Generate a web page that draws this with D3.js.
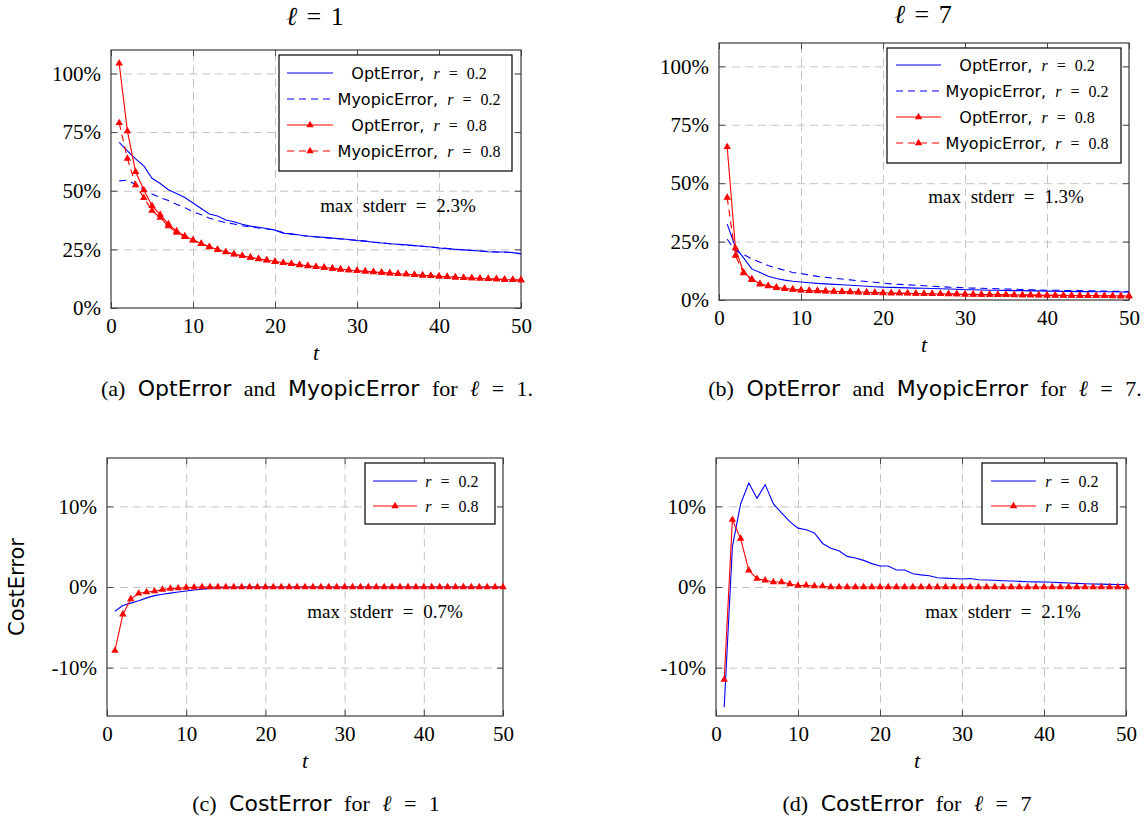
<!DOCTYPE html>
<html>
<head>
<meta charset="utf-8">
<script src="https://cdn.jsdelivr.net/npm/d3@7"></script>
<style>
  body { margin: 0; background: #fff; }
  svg { display: block; }
  text { white-space: pre; }
</style>
</head>
<body>
<svg id="fig" width="1145" height="827"></svg>
<script>
// ---------- data ----------
const steps = d3.range(1, 51); // t = 1 .. 50
const xTicks = [0, 10, 20, 30, 40, 50];
const errTicks = [0, 25, 50, 75, 100];
const costTicks = [-10, 0, 10];

// relative errors (%) for l = 1
const optL1R02 = [70.6, 67.0, 63.6, 60.6, 55.3, 53.1, 50.4, 48.8, 47.1, 44.8,
  42.4, 40.1, 39.2, 37.5, 36.8, 35.7, 34.9, 34.4, 33.9, 33.2,
  31.9, 31.6, 31.1, 30.7, 30.4, 30.1, 29.8, 29.5, 29.2, 28.8,
  28.5, 28.0, 27.7, 27.4, 27.2, 26.9, 26.6, 26.3, 26.0, 25.6,
  25.3, 25.0, 24.8, 24.5, 24.3, 24.0, 23.9, 23.9, 23.6, 23.0];
const myoL1R02 = [54.2, 54.5, 52.7, 50.5, 48.6, 47.1, 45.8, 44.2, 42.8, 41.0,
  39.8, 38.3, 37.3, 36.4, 35.8, 35.1, 34.5, 34.1, 33.7, 33.2,
  32.2, 31.5, 31.0, 30.6, 30.3, 30.0, 29.7, 29.4, 29.1, 28.9,
  28.5, 28.1, 27.8, 27.4, 27.1, 26.8, 26.6, 26.3, 26.0, 25.7,
  25.4, 25.1, 24.8, 24.6, 24.3, 24.1, 23.9, 23.8, 23.6, 23.2];
const optL1R08 = [104.3, 75.4, 58.1, 50.3, 43.6, 39.8, 35.8, 32.8, 30.7, 29.0,
  27.5, 26.1, 24.9, 23.9, 23.0, 22.3, 21.6, 21.0, 20.4, 19.8,
  19.3, 18.8, 18.4, 18.0, 17.6, 17.2, 16.9, 16.5, 16.2, 15.9,
  15.6, 15.4, 15.1, 14.9, 14.6, 14.4, 14.2, 13.9, 13.7, 13.5,
  13.3, 13.1, 12.9, 12.8, 12.6, 12.4, 12.3, 12.1, 12.0, 11.9];
const myoL1R08 = [78.9, 63.7, 52.4, 47.0, 41.5, 38.5, 34.9, 32.2, 30.3, 28.8,
  27.3, 26.0, 24.8, 23.8, 22.9, 22.2, 21.5, 20.9, 20.3, 19.7,
  19.2, 18.8, 18.3, 17.9, 17.5, 17.2, 16.8, 16.5, 16.2, 15.9,
  15.6, 15.3, 15.1, 14.8, 14.6, 14.4, 14.1, 13.9, 13.7, 13.5,
  13.3, 13.1, 12.9, 12.7, 12.6, 12.4, 12.3, 12.1, 12.0, 11.9];

// relative errors (%) for l = 7
const optL7R02 = [32.5, 22.6, 18.0, 13.3, 11.8, 10.2, 9.2, 8.5, 8.0, 7.7,
  7.4, 7.1, 6.9, 6.7, 6.5, 6.3, 6.1, 5.9, 5.7, 5.5,
  5.4, 5.3, 5.2, 5.1, 5.0, 4.9, 4.8, 4.7, 4.6, 4.4,
  4.4, 4.3, 4.2, 4.2, 4.1, 4.0, 4.0, 3.9, 3.9, 3.8,
  3.8, 3.7, 3.7, 3.6, 3.6, 3.5, 3.5, 3.5, 3.4, 3.4];
const myoL7R02 = [26.0, 21.2, 19.5, 17.6, 16.2, 14.8, 13.7, 12.7, 11.8, 11.3,
  10.7, 10.1, 9.7, 9.3, 9.0, 8.6, 8.2, 7.9, 7.6, 7.2,
  6.9, 6.7, 6.5, 6.3, 6.1, 5.9, 5.7, 5.5, 5.4, 5.2,
  5.1, 5.0, 4.9, 4.8, 4.7, 4.6, 4.5, 4.4, 4.3, 4.2,
  4.2, 4.1, 4.0, 4.0, 3.9, 3.9, 3.8, 3.7, 3.7, 3.6];
const optL7R08 = [65.5, 22.2, 11.8, 9.0, 6.9, 6.1, 5.4, 4.9, 4.6, 4.2,
  4.0, 3.9, 3.8, 3.7, 3.6, 3.5, 3.4, 3.3, 3.2, 3.1,
  3.0, 2.9, 2.9, 2.8, 2.7, 2.7, 2.6, 2.6, 2.5, 2.4,
  2.4, 2.3, 2.3, 2.3, 2.2, 2.2, 2.1, 2.1, 2.1, 2.0,
  2.0, 2.0, 1.9, 1.9, 1.9, 1.8, 1.8, 1.8, 1.7, 1.7];
const myoL7R08 = [43.8, 19.0, 11.5, 8.6, 6.7, 5.9, 5.2, 4.8, 4.5, 4.1,
  3.9, 3.8, 3.7, 3.6, 3.5, 3.4, 3.3, 3.2, 3.1, 3.0,
  2.9, 2.9, 2.8, 2.7, 2.7, 2.6, 2.6, 2.5, 2.5, 2.4,
  2.3, 2.3, 2.3, 2.2, 2.2, 2.1, 2.1, 2.1, 2.0, 2.0,
  2.0, 1.9, 1.9, 1.9, 1.8, 1.8, 1.8, 1.7, 1.7, 1.7];

// cost errors (%)
const costL1R02 = [-3.0, -2.3, -2.0, -1.7, -1.35, -1.07, -0.9, -0.76, -0.63, -0.5,
  -0.38, -0.26, -0.17, -0.09, -0.05, -0.03, -0.02, -0.01, 0, 0,
  0, 0, 0, 0, 0, 0, 0, 0, 0, 0,
  0, 0, 0, 0, 0, 0, 0, 0, 0, 0,
  0, 0, 0, 0, 0, 0, 0, 0, 0, 0];
const costL1R08 = [-7.9, -3.4, -1.5, -0.8, -0.62, -0.52, -0.33, -0.2, -0.15, -0.08,
  -0.04, -0.02, -0.01, 0, 0, 0, 0, 0, 0, 0,
  0, 0, 0, 0, 0, 0, 0, 0, 0, 0,
  0, 0, 0, 0, 0, 0, 0, 0, 0, 0,
  0, 0, 0, 0, 0, 0, 0, 0, 0, 0];
const costL7R02 = [-14.9, 5.0, 10.3, 12.9, 11.0, 12.7, 10.3, 9.2, 8.1, 7.3,
  7.1, 6.7, 5.4, 4.8, 4.5, 3.8, 3.6, 3.3, 2.9, 2.6,
  2.6, 2.1, 2.1, 1.65, 1.5, 1.4, 1.15, 1.1, 1.05, 1.0,
  1.05, 0.9, 0.87, 0.83, 0.78, 0.74, 0.7, 0.66, 0.64, 0.62,
  0.58, 0.54, 0.5, 0.45, 0.41, 0.38, 0.36, 0.33, 0.31, 0.29];
const costL7R08 = [-11.5, 8.35, 6.0, 2.07, 1.03, 0.83, 0.62, 0.62, 0.37, 0.17,
  0.2, 0.12, 0.1, 0, 0, 0, 0, 0, 0, 0,
  0, 0, 0, 0, 0, 0, 0, 0, 0, 0,
  0, 0, 0, 0, 0, 0, 0, 0, 0, 0,
  0, 0, 0, 0, 0, 0, 0, 0, 0, 0];

const stderrLabels = ["2.3%", "1.3%", "0.7%", "2.1%"];

// ---------- styling ----------
const SERIF = "'Liberation Serif','DejaVu Serif',serif";
const SANS = "'DejaVu Sans','Liberation Sans',sans-serif";
const ELL = "'DejaVu Serif',serif";
const BLUE = "#0000ff", RED = "#ff0000";
const GRID = "#c4c4c4", FRAME = "#3a3a3a", TICK = "#4a4a4a";

const svg = d3.select("#fig");

// text made of serif / sans / italic pieces
function richText(parent, x, y, parts, size, ws, anchor) {
  const txt = parent.append("text")
    .attr("x", x).attr("y", y)
    .attr("text-anchor", anchor || "middle")
    .attr("font-size", size)
    .attr("fill", "#000")
    .style("word-spacing", (ws || 0) + "px");
  parts.forEach(([s, kind]) => {
    const ts = txt.append("tspan").text(s)
      .attr("font-family", kind === "sans" ? SANS : kind === "ell" ? ELL : SERIF);
    if (kind === "it" || kind === "ell") ts.attr("font-style", "italic");
  });
  return txt;
}

const seriesStyle = {
  opt02: { color: BLUE, dash: null, marker: false },
  myo02: { color: BLUE, dash: "7,5", marker: false },
  opt08: { color: RED, dash: null, marker: true },
  myo08: { color: RED, dash: "7,5", marker: true }
};

const panels = [
  { box: { left: 111, right: 521, top: 50, bottom: 308 }, yDomain: [0, 110], yTicks: errTicks,
    series: [["opt02", optL1R02], ["myo02", myoL1R02], ["opt08", optL1R08], ["myo08", myoL1R08]],
    title: { text: "1", x: 315, y: 25 },
    stderr: { text: stderrLabels[0], x: 398, y: 212 },
    legend: { x0: 279, x1: 512, y0: 55, y1: 171, rows: [73, 99, 125, 151], s0: 287, s1: 333, tx: 419 },
    tLabel: { x: 316, y: 360 },
    caption: { x: 317, y: 396, ell: "1.", full: true } },
  { box: { left: 719, right: 1129, top: 43, bottom: 300 }, yDomain: [0, 110], yTicks: errTicks,
    series: [["opt02", optL7R02], ["myo02", myoL7R02], ["opt08", optL7R08], ["myo08", myoL7R08]],
    title: { text: "7", x: 923, y: 23 },
    stderr: { text: stderrLabels[1], x: 1006, y: 203 },
    legend: { x0: 887, x1: 1121, y0: 48, y1: 163, rows: [65, 91, 117, 143], s0: 896, s1: 941, tx: 1027 },
    tLabel: { x: 924, y: 352 },
    caption: { x: 925, y: 396, ell: "7.", full: true } },
  { box: { left: 107, right: 503, top: 458, bottom: 716 }, yDomain: [-16, 16], yTicks: costTicks,
    series: [["opt02", costL1R02], ["opt08", costL1R08]],
    stderr: { text: stderrLabels[2], x: 385, y: 618 },
    legend: { x0: 365, x1: 495, y0: 463, y1: 524, rows: [481, 506], s0: 373, s1: 417, tx: 452 },
    tLabel: { x: 305, y: 768 },
    caption: { x: 316, y: 811, ell: "1", full: false } },
  { box: { left: 716, right: 1126, top: 458, bottom: 716 }, yDomain: [-16, 16], yTicks: costTicks,
    series: [["opt02", costL7R02], ["opt08", costL7R08]],
    stderr: { text: stderrLabels[3], x: 1003, y: 618 },
    legend: { x0: 982, x1: 1117, y0: 463, y1: 524, rows: [481, 506], s0: 991, s1: 1036, tx: 1072 },
    tLabel: { x: 917, y: 768 },
    caption: { x: 907, y: 811, ell: "7", full: false } }
];

const legendLabels = {
  full: [
    [["OptError,", "sans"], [" ", ""], ["r", "it"], [" = 0.2", ""]],
    [["MyopicError,", "sans"], [" ", ""], ["r", "it"], [" = 0.2", ""]],
    [["OptError,", "sans"], [" ", ""], ["r", "it"], [" = 0.8", ""]],
    [["MyopicError,", "sans"], [" ", ""], ["r", "it"], [" = 0.8", ""]]
  ],
  cost: [
    [["r", "it"], [" = 0.2", ""]],
    [["r", "it"], [" = 0.8", ""]]
  ]
};

const tri = d3.symbol().type(d3.symbolTriangle).size(24);

function drawPanel(p, idx) {
  const b = p.box;
  const x = d3.scaleLinear().domain([0, 50]).range([b.left, b.right]);
  const y = d3.scaleLinear().domain(p.yDomain).range([b.bottom, b.top]);
  const g = svg.append("g");
  const w = b.right - b.left, h = b.bottom - b.top;

  // dashed grid
  g.append("g").attr("transform", `translate(0,${b.bottom})`)
    .call(d3.axisBottom(x).tickValues(xTicks.filter(v => v > 0 && v < 50)).tickSize(-h).tickFormat(""))
    .call(s => s.select(".domain").remove())
    .call(s => s.selectAll("line").attr("stroke", GRID).attr("stroke-dasharray", "8,5"));
  g.append("g").attr("transform", `translate(${b.left},0)`)
    .call(d3.axisLeft(y).tickValues(p.yTicks.filter(v => v > p.yDomain[0])).tickSize(-w).tickFormat(""))
    .call(s => s.select(".domain").remove())
    .call(s => s.selectAll("line").attr("stroke", GRID).attr("stroke-dasharray", "8,5"));

  // inward tick marks on all four sides, labels on bottom and left
  const styleAxis = (s) => {
    s.attr("font-family", SERIF).attr("font-size", 21);
    s.select(".domain").remove();
    s.selectAll(".tick line").attr("stroke", TICK).attr("stroke-width", 1);
    s.selectAll("text").attr("font-family", SERIF).attr("font-size", 21).attr("fill", "#000");
  };
  g.append("g").attr("transform", `translate(0,${b.bottom})`)
    .call(d3.axisBottom(x).tickValues(xTicks).tickSize(-6).tickPadding(10)).call(styleAxis);
  g.append("g").attr("transform", `translate(0,${b.top})`)
    .call(d3.axisTop(x).tickValues(xTicks).tickSize(-6).tickFormat("")).call(styleAxis);
  g.append("g").attr("transform", `translate(${b.left},0)`)
    .call(d3.axisLeft(y).tickValues(p.yTicks).tickSize(-6).tickPadding(10).tickFormat(d => `${d}%`)).call(styleAxis);
  g.append("g").attr("transform", `translate(${b.right},0)`)
    .call(d3.axisRight(y).tickValues(p.yTicks).tickSize(-6).tickFormat("")).call(styleAxis);

  // frame
  g.append("rect").attr("x", b.left).attr("y", b.top).attr("width", w).attr("height", h)
    .attr("fill", "none").attr("stroke", FRAME).attr("stroke-width", 1.2);

  // stderr note
  richText(g, p.stderr.x, p.stderr.y, [["max stderr = " + p.stderr.text, ""]], 19, 5);

  // series
  const line = d3.line().x((d, i) => x(steps[i])).y(d => y(d));
  p.series.forEach(([key, vals]) => {
    const st = seriesStyle[key];
    g.append("path").datum(vals).attr("d", line)
      .attr("fill", "none").attr("stroke", st.color).attr("stroke-width", 1.1)
      .attr("stroke-dasharray", st.dash);
    if (st.marker) {
      g.append("g").selectAll("path").data(vals).join("path")
        .attr("d", tri)
        .attr("transform", (d, i) => `translate(${x(steps[i])},${y(d)})`)
        .attr("fill", st.color);
    }
  });

  // legend
  const L = p.legend;
  const lg = g.append("g");
  lg.append("rect").attr("x", L.x0).attr("y", L.y0).attr("width", L.x1 - L.x0).attr("height", L.y1 - L.y0)
    .attr("fill", "#fff").attr("stroke", "#000").attr("stroke-width", 1.2);
  const labels = p.series.length === 4 ? legendLabels.full : legendLabels.cost;
  p.series.forEach(([key], i) => {
    const st = seriesStyle[key];
    const ry = L.rows[i];
    lg.append("line").attr("x1", L.s0).attr("x2", L.s1).attr("y1", ry).attr("y2", ry)
      .attr("stroke", st.color).attr("stroke-width", 1.1).attr("stroke-dasharray", st.dash);
    if (st.marker) {
      lg.append("path").attr("d", tri).attr("transform", `translate(${(L.s0 + L.s1) / 2},${ry})`).attr("fill", st.color);
    }
    richText(lg, L.tx, ry + 6, labels[i], 16, 5);
  });

  // t axis label
  richText(g, p.tLabel.x, p.tLabel.y, [["t", "it"]], 22, 0);

  // title above the top panels
  if (p.title) richText(g, p.title.x, p.title.y, [["ℓ", "ell"], [" = " + p.title.text, ""]], 26, 3);

  // sub-caption
  const letter = ["a", "b", "c", "d"][idx];
  const capParts = p.caption.full
    ? [[`(${letter}) `, ""], ["OptError", "sans"], [" and ", ""], ["MyopicError", "sans"], [" for ", ""], ["ℓ", "ell"], [` = ${p.caption.ell}`, ""]]
    : [[`(${letter}) `, ""], ["CostError", "sans"], [" for ", ""], ["ℓ", "ell"], [` = ${p.caption.ell}`, ""]];
  richText(svg, p.caption.x, p.caption.y, capParts, 22, 7);
}

panels.forEach(drawPanel);

// y-axis label of the cost row
svg.append("text")
  .attr("transform", "translate(17,587) rotate(-90)")
  .attr("text-anchor", "middle").attr("dominant-baseline", "central")
  .attr("font-family", SANS).attr("font-size", 21).attr("fill", "#000")
  .text("CostError");
</script>
</body>
</html>
